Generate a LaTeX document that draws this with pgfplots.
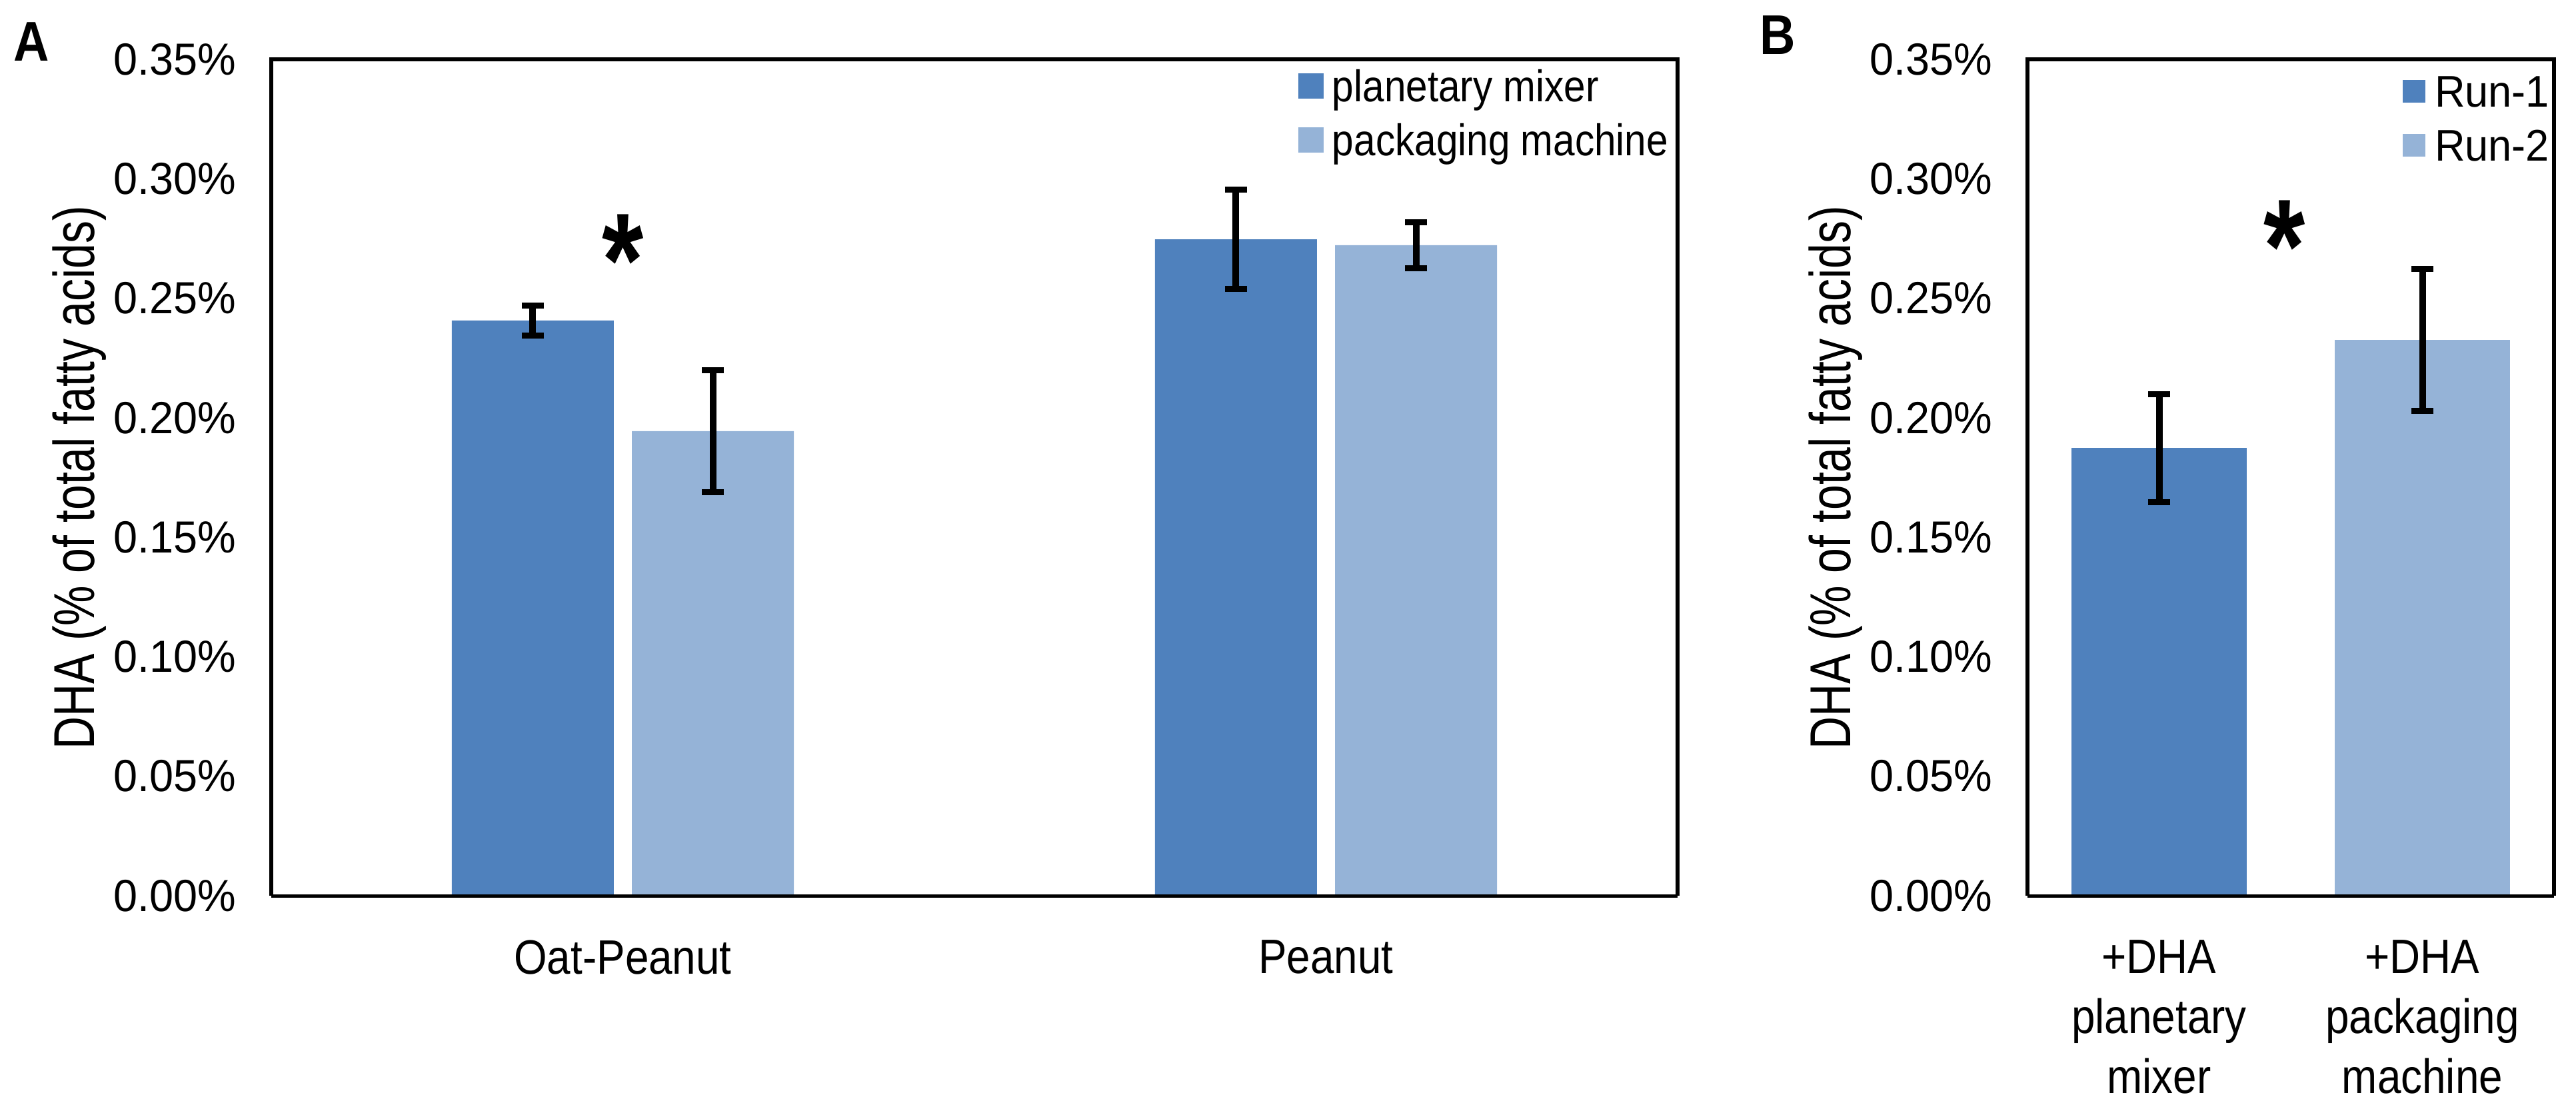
\documentclass[border=0pt]{standalone}
\usepackage{fontspec}
\setmainfont{Liberation Sans}[FakeStretch=0.88]
\newfontfamily\tickfont{Liberation Sans}[FakeStretch=0.96]
\newfontfamily\legfontA{Liberation Sans}[FakeStretch=0.88]
\newfontfamily\legfontB{Liberation Sans}[FakeStretch=0.95]
\newfontfamily\ylabfont{Liberation Sans}[FakeStretch=0.785]
\newfontfamily\starfont{Liberation Sans}[FakeStretch=0.8]
\usepackage{pgfplots}
\pgfplotsset{compat=1.18}
\definecolor{darkbar}{HTML}{4F81BD}
\definecolor{lightbar}{HTML}{95B3D7}
\definecolor{baseline}{HTML}{D4D4D4}
\newcommand\ticksize{\tickfont\fontsize{13.5pt}{16pt}\selectfont}
\newcommand\legsizeA{\legfontA\fontsize{13.3pt}{16pt}\selectfont}
\newcommand\legsizeB{\legfontB\fontsize{13.3pt}{16pt}\selectfont}
\newcommand\xsize{\fontsize{14.5pt}{18pt}\selectfont}
\newcommand\ysize{\ylabfont\fontsize{17.3pt}{20pt}\selectfont}
\newcommand\starsize{\starfont\bfseries\fontsize{40pt}{40pt}\selectfont}
\pgfplotsset{
  common/.style={
    scale only axis, height=251pt,
    xmin=-0.5, xmax=1.5, ymin=0, ymax=0.35,
    xtick={0,1},
    ytick={0,0.05,0.1,0.15,0.2,0.25,0.3,0.35},
    yticklabels={0.00\%,0.05\%,0.10\%,0.15\%,0.20\%,0.25\%,0.30\%,0.35\%},
    axis line style={draw=none}, major tick length=0pt, tick style={draw=none},
    yticklabel style={anchor=east, inner sep=0pt, xshift=-10.4pt, font=\ticksize},
    xticklabel style={anchor=north, inner sep=0pt, yshift=-13.2pt, font=\xsize, align=center},
    ylabel={DHA (\% of total fatty acids)},
    ylabel style={at={([xshift=-53.2pt]axis description cs:0,0.5)}, anchor=base, rotate=0, font=\ysize, inner sep=0pt},
    clip=false,
    ybar,
    legend cell align=left,
    error bars/error bar style={line width=2pt, black},
    error bars/error mark options={rotate=90, line width=1.8pt, mark size=3.3pt, black},
  },
}
\begin{document}
\begin{tikzpicture}
\useasboundingbox (0,0) rectangle (773pt,330.2pt);
% Panel A
\begin{axis}[common,
  at={(81.4pt,61.4pt)}, anchor=south west, width=422pt,
  xticklabels={Oat-Peanut,Peanut},
  bar width=0.2303,
  legend style={at={(0.7303,0.9875)}, anchor=north west, draw=none, fill=none,
    inner sep=0pt, outer sep=0pt, row sep=6.68pt, font=\legsizeA,
    nodes={inner sep=0pt, text height=9.52pt, text depth=0pt}},
  legend image code/.code={\path[#1, draw=none] (0pt,-3.8pt) rectangle (7.6pt,3.8pt); \path (10.2pt,0pt);},
]
\addplot[fill=darkbar, draw=none, bar shift=-0.128,
  error bars/.cd, y dir=both, y explicit]
  coordinates {(0,0.2407) +- (0,0.0062) (1,0.2747) +- (0,0.0208)};
\addlegendentry{planetary mixer}
\addplot[fill=lightbar, draw=none, bar shift=0.128,
  error bars/.cd, y dir=both, y explicit]
  coordinates {(0,0.1944) +- (0,0.0255) (1,0.2722) +- (0,0.0095)};
\addlegendentry{packaging machine}
\draw[baseline, line width=1pt] (rel axis cs:0,0) -- (rel axis cs:1,0);
\draw[black, line width=1.2pt, line join=miter] (rel axis cs:0,0) -- (rel axis cs:0,1) -- (rel axis cs:1,1) -- (rel axis cs:1,0);
\node[anchor=north, inner sep=0pt, font=\starsize] at (axis cs:0,0.2853) {*};
\end{axis}
% Panel B
\begin{axis}[common,
  at={(608.4pt,61.4pt)}, anchor=south west, width=158pt,
  xticklabels={+DHA\\planetary\\mixer, +DHA\\packaging\\machine},
  bar width=0.668,
  legend style={at={(0.7127,0.9807)}, anchor=north west, draw=none, fill=none,
    inner sep=0pt, outer sep=0pt, row sep=6.68pt, font=\legsizeB,
    nodes={inner sep=0pt, text height=9.52pt, text depth=0pt}},
  legend image code/.code={\path[#1, draw=none] (0pt,-3.4pt) rectangle (6.8pt,3.4pt); \path (9.6pt,0pt);},
]
\addplot[fill=darkbar, draw=none, bar shift=0,
  error bars/.cd, y dir=both, y explicit]
  coordinates {(0,0.1874) +- (0,0.0226)};
\addlegendentry{Run-1}
\addplot[fill=lightbar, draw=none, bar shift=0,
  error bars/.cd, y dir=both, y explicit]
  coordinates {(1,0.2326) +- (0,0.0298)};
\addlegendentry{Run-2}
\draw[baseline, line width=1pt] (rel axis cs:0,0) -- (rel axis cs:1,0);
\draw[black, line width=1.2pt, line join=miter] (rel axis cs:0,0) -- (rel axis cs:0,1) -- (rel axis cs:1,1) -- (rel axis cs:1,0);
\node[anchor=north, inner sep=0pt, font=\starsize] at (axis cs:0.475,0.2912) {*};
\end{axis}
\node[anchor=base west, inner sep=0pt, font=\bfseries\fontsize{16.8pt}{16.8pt}\selectfont] at (4pt,311.8pt) {A};
\node[anchor=base west, inner sep=0pt, font=\bfseries\fontsize{16.8pt}{16.8pt}\selectfont] at (527.8pt,313.8pt) {B};
\end{tikzpicture}
\end{document}
